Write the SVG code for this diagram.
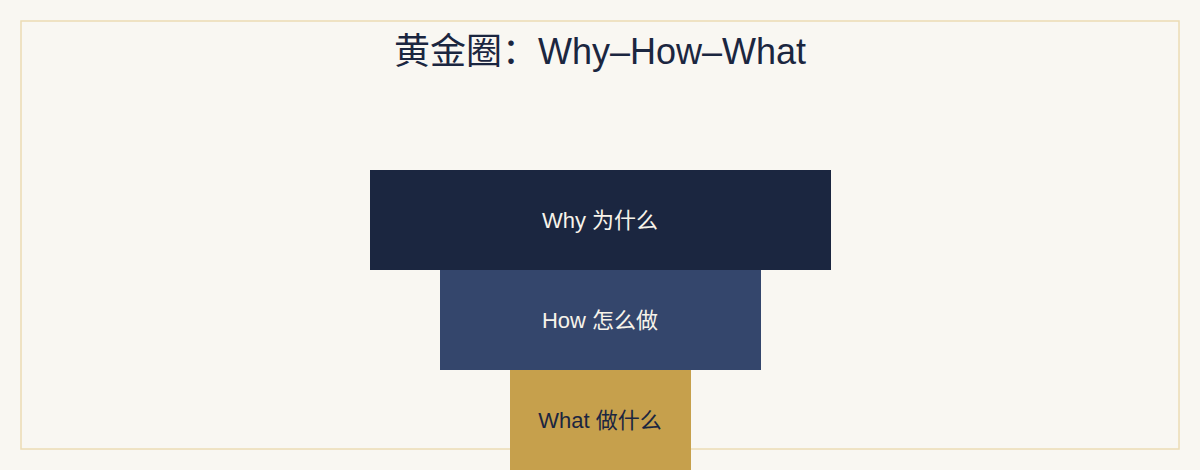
<svg xmlns="http://www.w3.org/2000/svg" width="1200" height="470" viewBox="0 0 1200 470">
<style>
.t{font-family:"Liberation Sans","Noto Sans CJK SC",sans-serif;text-anchor:middle;}
.lbl{font-size:22px;}
</style>
<rect x="0" y="0" width="1200" height="470" fill="#F9F7F2"/>
<rect x="21" y="21" width="1158" height="428" fill="none" stroke="#EBDCB4" stroke-width="1.5"/>
<text class="t" x="600" y="64" font-size="36" fill="#1B2640">黄金圈：Why–How–What</text>
<g id="why">
<rect x="370" y="170" width="461" height="100" fill="#1B2640"/>
<text class="t lbl" x="600" y="228" fill="#F7F3EA">Why 为什么</text>
</g>
<g id="how">
<rect x="440" y="270" width="321" height="100" fill="#34466C"/>
<text class="t lbl" x="600" y="328" fill="#F7F3EA">How 怎么做</text>
</g>
<g id="what">
<rect x="510" y="370" width="181" height="100" fill="#C6A04C"/>
<text class="t lbl" x="600" y="428" fill="#1B2640">What 做什么</text>
</g>
<g id="connectors"></g>
</svg>
